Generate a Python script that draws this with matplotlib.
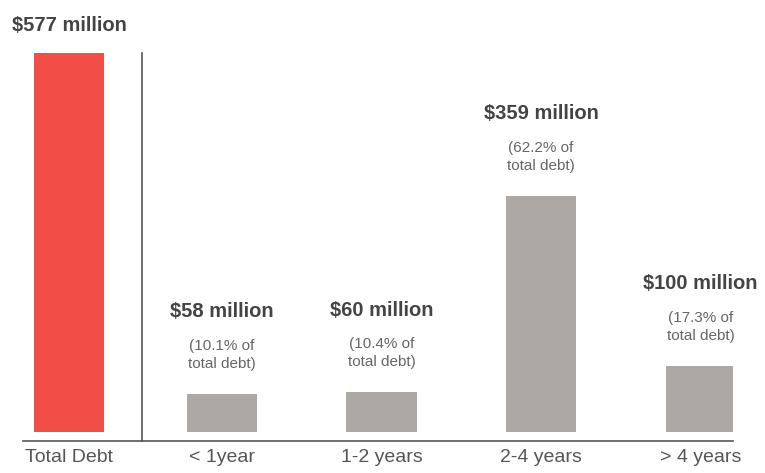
import matplotlib
matplotlib.use("Agg")
import matplotlib.pyplot as plt

categories = ["Total Debt", "< 1year", "1-2 years", "2-4 years", "> 4 years"]
values = [577, 58, 60, 359, 100]
value_labels = ["$577 million", "$58 million", "$60 million", "$359 million", "$100 million"]
share_labels = [None, "10.1%", "10.4%", "62.2%", "17.3%"]

plt.rcParams['font.family'] = ['Liberation Sans', 'DejaVu Sans']

W, H = 765, 473
fig = plt.figure(figsize=(W / 100, H / 100), dpi=100)
ax_left, ax_right, ax_top, ax_bot = 23, 733, 50, 441
ax = fig.add_axes([ax_left / W, 1 - ax_bot / H, (ax_right - ax_left) / W, (ax_bot - ax_top) / H])

positions = [0, 0.96, 1.96, 2.96, 3.96]
colors = ["#F14E48"] + ["#ADA8A4"] * 4
bar_w = 0.44

ax.bar(positions, values, width=bar_w, color=colors, zorder=2)

ax.set_xlim(-0.288, 4.163)
ax.set_ylim(-14.2, 581.1)

for s in ["top", "right", "left"]:
    ax.spines[s].set_visible(False)
ax.spines["bottom"].set_color("#555555")
ax.spines["bottom"].set_linewidth(1.2)
ax.set_yticks([])
ax.set_xticks(positions)
ax.set_xticklabels(categories, fontsize=14, color="#555555")
ax.tick_params(axis="x", length=0, pad=6)

# separator line between total and breakdown
sep_x = (positions[0] + positions[1]) / 2 - 0.02
ax.plot([sep_x, sep_x], [-14.2, values[0]], color="#555555", lw=1.2, clip_on=False)

for i, (x, v) in enumerate(zip(positions, values)):
    if share_labels[i] is None:
        ax.annotate(value_labels[i], xy=(x, v), xytext=(0, 27), textcoords="offset pixels",
                    ha="center", va="center", fontsize=14.5, fontweight="bold",
                    color="#444444", annotation_clip=False)
    else:
        ax.annotate(value_labels[i], xy=(x, v), xytext=(0, 82), textcoords="offset pixels",
                    ha="center", va="center", fontsize=14.5, fontweight="bold",
                    color="#444444", annotation_clip=False)
        ax.annotate("(" + share_labels[i] + " of", xy=(x, v), xytext=(0, 48), textcoords="offset pixels",
                    ha="center", va="center", fontsize=11, color="#666666", annotation_clip=False)
        ax.annotate("total debt)", xy=(x, v), xytext=(0, 30), textcoords="offset pixels",
                    ha="center", va="center", fontsize=11, color="#666666", annotation_clip=False)

fig.savefig("out.png", dpi=100)
